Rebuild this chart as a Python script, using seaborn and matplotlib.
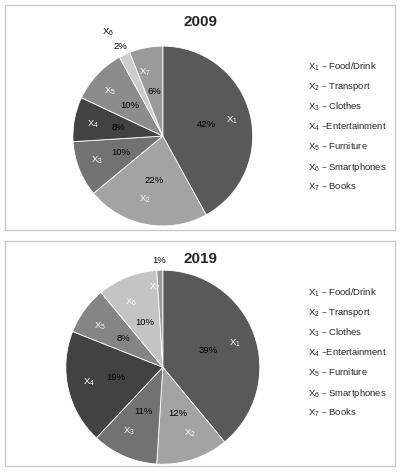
import matplotlib
matplotlib.use("Agg")
import matplotlib.pyplot as plt
import seaborn as sns
from matplotlib.patches import Rectangle

sns.set_theme(style="white")
plt.rcParams['font.family'] = ['Liberation Sans', 'DejaVu Sans']
plt.rcParams['mathtext.default'] = 'regular'

categories = ["X1", "X2", "X3", "X4", "X5", "X6", "X7"]
names = ["Food/Drink", "Transport", "Clothes", "Entertainment", "Furniture", "Smartphones", "Books"]
vals_2009 = [42, 22, 10, 8, 10, 2, 6]
vals_2019 = [39, 12, 11, 19, 8, 10, 1]
colors_2009 = ["#595959", "#a3a3a3", "#727272", "#424242", "#8c8c8c", "#cdcdcd", "#9a9a9a"]
colors_2019 = ["#595959", "#a3a3a3", "#727272", "#424242", "#858585", "#c4c4c4", "#9a9a9a"]

fig = plt.figure(figsize=(4.01, 4.72), dpi=100)
for y0 in [0.513, 0.0127]:
    fig.patches.append(Rectangle((0.012, y0), 0.973, 0.477, transform=fig.transFigure,
                                 fill=False, edgecolor="#c8c8c8", linewidth=1))

def draw(rect, vals, colors, title, ty, ly, outside):
    ax = fig.add_axes(rect)
    labels = [f"$X_{i+1}$" for i in range(len(vals))]
    wedges, texts, pcts = ax.pie(vals, labels=labels, colors=colors, startangle=90,
                                 counterclock=False, labeldistance=0.72, pctdistance=0.5,
                                 autopct=lambda p: f"{p:.0f}%",
                                 wedgeprops=dict(edgecolor="white", linewidth=0.6),
                                 textprops=dict(fontsize=6.8))
    for t in texts:
        t.set_color("white")
    for p in pcts:
        p.set_color("black")
    for i, (lr, pr, col) in outside.items():
        x, y = texts[i].get_position()
        s = lr / 0.72
        texts[i].set_position((x * s, y * s))
        texts[i].set_color(col)
        x, y = pcts[i].get_position()
        s = pr / 0.5
        pcts[i].set_position((x * s, y * s))
    ax.set_xlim(-1, 1)
    ax.set_ylim(-1, 1)
    ax.set_aspect("equal")
    fig.text(0.5, ty, title, ha="center", va="center", fontsize=11, fontweight="bold")
    for i, n in enumerate(names):
        sep = " \u2013 " if i != 3 else " \u2013"
        fig.text(0.768, ly - i * 0.0424, f"$X_{i+1}$" + sep + n, fontsize=6.8,
                 va="center", ha="left")

draw([0.1815, 0.5213, 0.449, 0.381], vals_2009, colors_2009, "2009", 0.953, 0.858,
     {5: (1.28, 1.1, "black")})
draw([0.164, 0.0165, 0.484, 0.411], vals_2019, colors_2019, "2019", 0.451, 0.379,
     {6: (0.82, 1.1, "white")})
fig.savefig("out.png", dpi=100)
